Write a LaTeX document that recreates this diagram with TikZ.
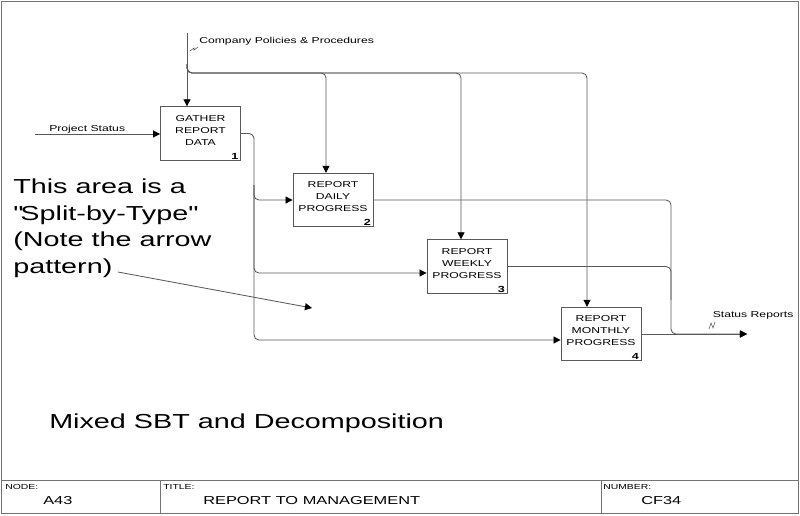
\documentclass[tikz,border=0pt]{standalone}
\usepackage{fontspec}
\setmainfont{Liberation Sans}[FakeStretch=1.42]
\usetikzlibrary{arrows.meta, positioning, calc}

\begin{document}
\begin{tikzpicture}[x=0.025cm, y=-0.025cm,
		box/.style={draw=black!65, line width=0.6pt, minimum width=2cm, minimum height=1.3375cm, inner sep=0pt},
		boxtxt/.style={font=\fontsize{6.1}{8.5}\selectfont, align=center, inner sep=0pt},
		numtxt/.style={font=\fontsize{6.3}{7}\selectfont\bfseries, inner xsep=1.6pt, inner ysep=0.7pt},
		lbl/.style={font=\fontsize{6.1}{7}\selectfont, inner sep=0pt, anchor=base west},
		wire/.style={draw=black!65, line width=0.6pt, rounded corners=3.5pt},
		squig/.style={draw=black!65, line width=0.4pt},
		arr/.style={wire, -{Triangle[length=5pt, width=5pt, color=black]}},
		frame/.style={draw=black!55, line width=0.7pt},
		tbhead/.style={font=\fontsize{5.2}{6}\selectfont, inner sep=0pt, anchor=base west},
		tbtxt/.style={font=\fontsize{8.2}{9}\selectfont, inner sep=0pt, anchor=base west},
		bigtxt/.style={font=\fontsize{14.4}{19.1}\selectfont, inner sep=0pt, align=left}]
	\useasboundingbox (0,0) rectangle (800,515);
	\draw[frame] (1,1) rectangle (798,513);
	\draw[frame] (1,480) -- (798,480);
	\draw[frame] (160,480) -- (160,513);
	\draw[frame] (601,480) -- (601,513);
	\foreach \i/\cx/\cy/\lab in {1/200.5/133.5/{GATHER\\REPORT\\DATA}, 2/333/200/{REPORT\\DAILY\\PROGRESS}, 3/467/266.5/{REPORT\\WEEKLY\\PROGRESS}, 4/601/334/{REPORT\\MONTHLY\\PROGRESS}}{
		\node[box] (b\i) at (\cx,\cy) {};
		\node[boxtxt, anchor=north] (t\i) at ([yshift=-6.2pt]b\i.north) {\lab};
		\node[numtxt, anchor=south east] (n\i) at (b\i.south east) {\i};
	}
	% control
	\coordinate (cp) at (187,33);
	\coordinate (cq) at (187,64);
	\node[lbl] (cplbl) at (199,43) {Company Policies \& Procedures};
	\draw[squig] (190,51) -- (194,48) -- (194,50) -- (198,47);
	\foreach \i/\x in {2/326,3/461,4/587}{\coordinate (c\i) at (\x,73);}
	\draw[arr] (cp) -- (cp |- b1.north);
	\foreach \i in {2,3,4}{\draw[arr] (cq) |- (c\i) -- (c\i |- b\i.north);}
	% input
	\coordinate (ps) at (35,134);
	\node[lbl] (pslbl) at (49,131.5) {Project Status};
	\draw[arr] (ps) -- (ps -| b1.west);
	% split
	\coordinate (sp) at (254,150);
	\coordinate (sq) at (254,185);
	\draw[arr] (b1.east) -| (sp) |- (b2.west);
	\draw[arr] (sq) |- ($(b3.west)+(0,6.5)$);
	\draw[arr] (sq) |- ($(b4.west)+(0,6)$);
	% output
	\coordinate (mg) at (671,300);
	\coordinate (mh) at (671,255);
	\coordinate (sr) at (747,334);
	\draw[wire] (b2.east) -| (mh);
	\draw[wire] (b3.east) -| (mg);
	\draw[arr] (mh) |- (sr);
	\draw[arr] (b4.east) -- (sr);
	\node[lbl] (srlbl) at (712.5,317.3) {Status Reports};
	\draw[squig] (709,329) -- (711,323) -- (713,328) -- (715,322);
	% notes
	\node[bigtxt, anchor=north west] (note) at (13,178.2) {This area is a\\\textquotedbl Split-by-Type\textquotedbl\\(Note the arrow\\pattern)};
	\coordinate (nt) at (118,272);
	\coordinate (ntip) at (312,308);
	\draw[arr] (nt) -- (ntip);
	\node[bigtxt, anchor=base west] (mixed) at (49,428) {Mixed SBT and Decomposition};
	% title block
	\node[tbhead] (nodehd) at (5,489) {NODE:};
	\node[tbtxt] (nodeval) at (43,504) {A43};
	\node[tbhead] (titlehd) at (163,489) {TITLE:};
	\node[tbtxt] (titleval) at (203,504) {REPORT TO MANAGEMENT};
	\node[tbhead] (numhd) at (603,489) {NUMBER:};
	\node[tbtxt] (numval) at (641,504) {CF34};
\end{tikzpicture}
\end{document}
